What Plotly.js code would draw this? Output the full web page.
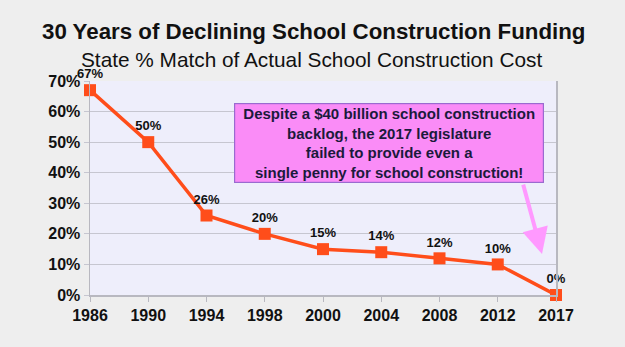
<!DOCTYPE html>
<html><head><meta charset="utf-8">
<script src="https://cdn.plot.ly/plotly-3.0.1.min.js"></script>
<style>body{margin:0;background:#eeeeee;}#chart{width:625px;height:347px;}</style>
</head><body><div id="chart"></div>
<script>
var years = ["1986","1990","1994","1998","2000","2004","2008","2012","2017"];
var matchPct = [67, 50, 26, 20, 15, 14, 12, 10, 0];
var yTicks = [0, 10, 20, 30, 40, 50, 60, 70];
var yTickText = yTicks.map(function(v){return v + "%";});
var labels = matchPct.map(function(v){return v + "%";});

var trace = {
  x: years, y: matchPct, type: "scatter", mode: "lines+markers+text",
  text: labels, textposition: "top center",
  textfont: {family: "Liberation Sans, Arial, sans-serif", size: 13, color: "#111111", weight: "bold"},
  line: {color: "#ff4d1a", width: 3.5},
  marker: {symbol: "square", size: 12, color: "#ff4d1a"},
  cliponaxis: false, hoverinfo: "skip"
};

var layout = {
  width: 625, height: 347,
  margin: {l: 90, r: 69, t: 81, b: 52},
  paper_bgcolor: "#eeeeee", plot_bgcolor: "#eeeefb",
  showlegend: false,
  font: {family: "Liberation Sans, Arial, sans-serif", color: "#111111"},
  xaxis: {
    type: "category", range: [0, 8], showgrid: false,
    showline: true, linecolor: "#b8b8c0", linewidth: 1.5,
    ticks: "outside", ticklen: 5, tickcolor: "#b8b8c0",
    tickfont: {size: 16, weight: "bold", color: "#111111"}, zeroline: false
  },
  yaxis: {
    range: [0, 70], tickmode: "array", tickvals: yTicks, ticktext: yTickText,
    showgrid: true, gridcolor: "#c6c6d0", gridwidth: 1.2,
    showline: true, linecolor: "#b8b8c0", linewidth: 1.5, mirror: true,
    ticks: "outside", ticklen: 5, tickcolor: "#c6c6d0", zeroline: false,
    tickfont: {size: 16, weight: "bold", color: "#111111"}
  },
  annotations: [
    {
      text: "<b>30 Years of Declining School Construction Funding</b>",
      xref: "paper", yref: "paper", x: 0.479, y: 1 + (81-32)/214,
      xanchor: "center", yanchor: "middle", showarrow: false,
      font: {size: 22.3, color: "#111111"}
    },
    {
      text: "State % Match of Actual School Construction Cost",
      xref: "paper", yref: "paper", x: 0.475, y: 1 + (81-60)/214,
      xanchor: "center", yanchor: "middle", showarrow: false,
      font: {size: 20.8, color: "#111111"}
    },
    {
      text: "<b>Despite a $40 billion school construction<br>backlog, the 2017 legislature<br>failed to provide even a<br>single penny for school construction!</b>",
      xref: "paper", yref: "paper", x: (389-90)/466, y: (295-142.5)/214,
      xanchor: "center", yanchor: "middle", showarrow: false,
      font: {size: 15, color: "#1a1a3c"},
      bgcolor: "#fa8cf7", bordercolor: "#9a6ad0", borderwidth: 1.2, borderpad: 1,
      width: 306, height: 76
    },
    {
      text: "", xref: "x", yref: "y", x: 7.76, y: 13.4,
      showarrow: true, axref: "x", ayref: "y", ax: 7.43, ay: 36.6,
      arrowcolor: "#ff99ff", arrowwidth: 4, arrowhead: 2, arrowsize: 1.3
    }
  ]
};
Plotly.newPlot("chart", [trace], layout, {staticPlot: true, displayModeBar: false});
</script></body></html>
